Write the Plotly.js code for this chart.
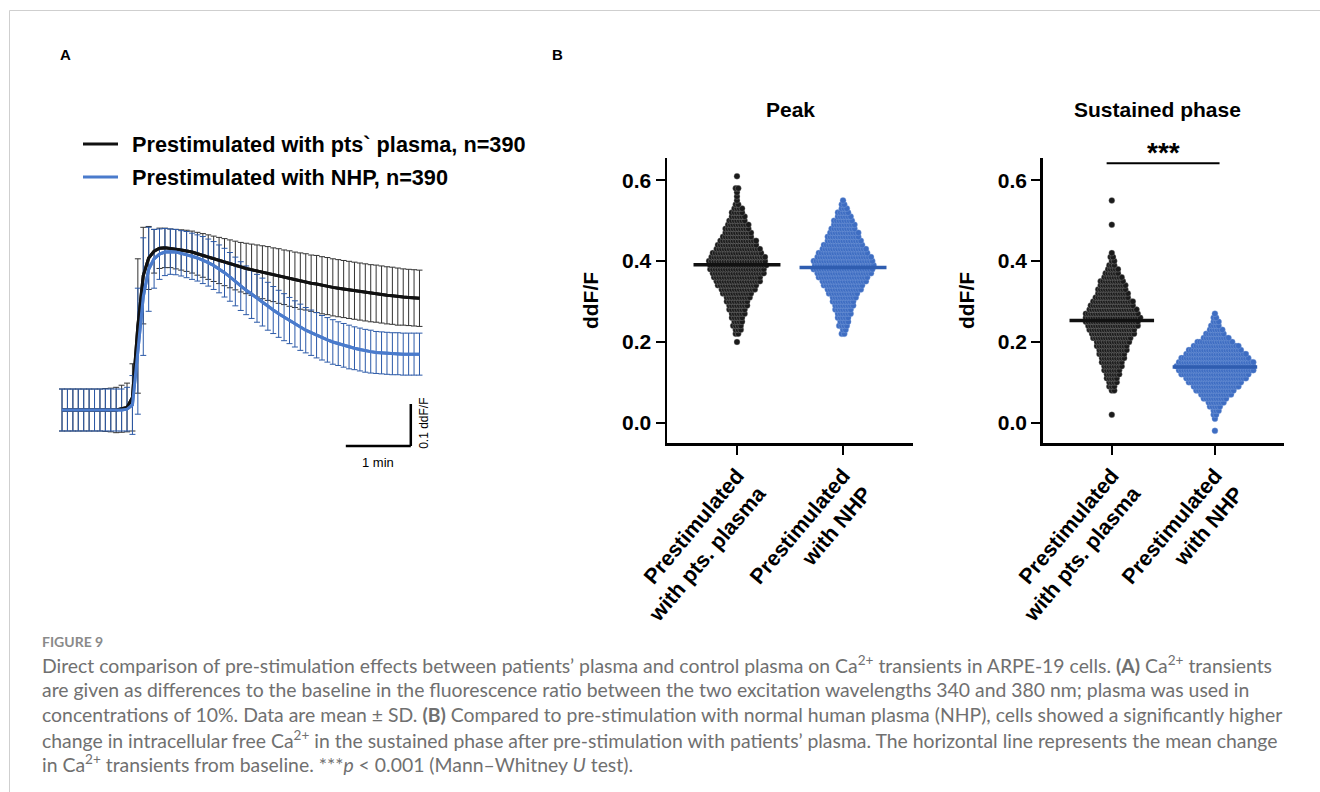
<!DOCTYPE html>
<html><head><meta charset="utf-8">
<script src="https://cdn.plot.ly/plotly-3.0.1.min.js"></script>
<style>html,body{margin:0;padding:0;background:#fff}</style>
</head><body><div id="chart" style="width:1320px;height:792px"></div>
<script>
// ---------- Panel A: time course (seconds), mean and SD of ddF/F ----------
const timeSec = [0,5,10,15,20,25,30,35,40,45,50,55,60,65,70,75,80,85,90,95,100,105,110,115,120,125,130,135,140,145,150,155,160,165,170,175,180,185,190,195,200,205,210,215,220,225,230,235,240,245,250,255,260,265,270,275,280,285,290,295,300,305,310,315,320,325,330];
const ptsMean = [0,0,0,0,0,0,0,0,0,0,0,
 0.003,0.006,0.03,0.2,0.32,0.362,0.378,0.385,0.386,0.385,
 0.383,0.381,0.379,0.376,0.372,0.368,0.364,0.36,0.356,0.352,
 0.348,0.344,0.34,0.337,0.334,0.331,0.328,0.325,0.322,0.319,
 0.316,0.313,0.31,0.307,0.305,0.302,0.3,0.297,0.295,0.292,
 0.29,0.288,0.286,0.284,0.282,0.28,0.278,0.277,0.275,0.273,
 0.272,0.27,0.269,0.268,0.267,0.266];
const ptsSD = [0.05,0.05,0.05,0.05,0.05,0.05,0.05,0.05,0.051,0.052,0.054,
 0.056,0.058,0.08,0.16,0.115,0.075,0.052,0.048,0.047,0.046,
 0.047,0.048,0.049,0.05,0.051,0.052,0.053,0.054,0.055,0.056,
 0.057,0.058,0.059,0.06,0.061,0.062,0.063,0.064,0.064,0.065,
 0.065,0.066,0.066,0.067,0.067,0.067,0.068,0.068,0.068,0.068,
 0.068,0.068,0.068,0.068,0.068,0.068,0.068,0.068,0.068,0.068,
 0.068,0.068,0.067,0.067,0.067,0.067];
const nhpMean = [0,0,0,0,0,0,0,0,0,0,0,
 0,0.002,0.012,0.14,0.27,0.335,0.36,0.371,0.376,0.377,
 0.376,0.373,0.37,0.366,0.362,0.357,0.351,0.344,0.336,0.327,
 0.317,0.306,0.295,0.285,0.276,0.266,0.257,0.247,0.238,0.229,
 0.221,0.213,0.205,0.197,0.19,0.184,0.178,0.172,0.167,0.162,
 0.158,0.154,0.15,0.147,0.144,0.141,0.139,0.137,0.136,0.135,
 0.134,0.134,0.133,0.133,0.133,0.133];
const nhpSD = [0.05,0.05,0.05,0.05,0.05,0.05,0.05,0.05,0.05,0.05,0.05,
 0.05,0.052,0.07,0.15,0.14,0.1,0.07,0.06,0.056,0.054,
 0.054,0.054,0.055,0.055,0.055,0.056,0.056,0.057,0.057,0.058,
 0.058,0.058,0.058,0.058,0.058,0.057,0.057,0.057,0.056,0.056,
 0.056,0.055,0.055,0.055,0.054,0.054,0.054,0.053,0.053,0.053,
 0.052,0.052,0.052,0.051,0.051,0.051,0.051,0.05,0.05,0.05,
 0.05,0.05,0.05,0.05,0.05,0.05];
const legendNames = ['Prestimulated with pts` plasma, n=390', 'Prestimulated with NHP, n=390'];

// ---------- Panel B: distributions (value bins of ddF/F and number of cells) ----------
const groupLabels = ['Prestimulated<br>with pts. plasma', 'Prestimulated<br>with NHP'];
const panelTitles = ['Peak', 'Sustained phase'];
const peakPtsVals = [0.20,0.21,0.22,0.23,0.24,0.25,0.26,0.27,0.28,0.29,0.30,0.31,0.32,0.33,0.34,0.35,0.36,0.37,0.38,0.39,0.40,0.41,0.42,0.43,0.44,0.45,0.46,0.47,0.48,0.49,0.50,0.51,0.52,0.53,0.54,0.55,0.56,0.57,0.58,0.59,0.60,0.61];
const peakPtsCounts = [1,0,2,3,4,4,5,6,7,8,9,10,12,14,16,18,19,21,22,23,23,22,20,18,16,15,12,11,10,9,7,6,5,4,2,1,1,1,2,0,0,1];
const peakNhpVals = [0.22,0.23,0.24,0.25,0.26,0.27,0.28,0.29,0.30,0.31,0.32,0.33,0.34,0.35,0.36,0.37,0.38,0.39,0.40,0.41,0.42,0.43,0.44,0.45,0.46,0.47,0.48,0.49,0.50,0.51,0.52,0.53,0.54,0.55];
const peakNhpCounts = [2,2,4,4,5,6,7,8,9,10,12,14,16,18,20,22,24,24,24,22,20,18,16,14,13,12,10,9,8,6,5,3,2,1];
const sustPtsVals = [0.02,0.08,0.09,0.10,0.11,0.12,0.13,0.14,0.15,0.16,0.17,0.18,0.19,0.20,0.21,0.22,0.23,0.24,0.25,0.26,0.27,0.28,0.29,0.30,0.31,0.32,0.33,0.34,0.35,0.36,0.37,0.38,0.39,0.40,0.41,0.42,0.49,0.55];
const sustPtsCounts = [1,2,3,4,5,6,7,8,9,10,11,12,13,14,16,18,19,21,22,23,22,20,18,17,14,13,12,11,10,8,6,5,3,2,2,1,1,1];
const sustNhpVals = [-0.02,0.01,0.02,0.03,0.04,0.05,0.06,0.07,0.08,0.09,0.10,0.11,0.12,0.13,0.14,0.15,0.16,0.17,0.18,0.19,0.20,0.21,0.22,0.23,0.24,0.25,0.26,0.27];
const sustNhpCounts = [1,1,2,3,5,7,10,13,16,19,22,25,28,31,32,31,28,25,22,19,15,11,8,6,4,3,2,1];
const peakMeans = [0.391, 0.384];
const sustMeans = [0.253, 0.138];

const FONT = 'Liberation Sans, Arial, Helvetica, sans-serif';
const BLACK = '#1b1b1b', BLUE = '#3e6dc2', BLUE_ERR = '#2c5aa8', BLUE_LINE = '#4a7bcc', BLUE_MEAN = '#2f5db0';

function swarm(vals, counts, center, dx) {
  const xs = [], ys = [];
  vals.forEach((v, i) => {
    const n = counts[i];
    const shift = (n > 1 && i % 2) ? dx / 2 : 0;
    for (let k = 0; k < n; k++) { xs.push(center + (k - (n - 1) / 2) * dx + shift); ys.push(v); }
  });
  return {xs, ys};
}

const traces = [];
// Panel A traces
traces.push({x: timeSec, y: ptsMean, xaxis: 'x', yaxis: 'y', mode: 'lines', line: {color: '#111', width: 3},
  error_y: {type: 'data', array: ptsSD, visible: true, color: '#333', thickness: 1, width: 3}, showlegend: false, hoverinfo: 'skip'});
traces.push({x: timeSec, y: nhpMean, xaxis: 'x', yaxis: 'y', mode: 'lines', line: {color: BLUE_LINE, width: 3},
  error_y: {type: 'data', array: nhpSD, visible: true, color: BLUE_ERR, thickness: 1, width: 3}, showlegend: false, hoverinfo: 'skip'});
traces.push({x: timeSec, y: ptsMean, xaxis: 'x', yaxis: 'y', mode: 'lines', line: {color: '#111', width: 3}, name: legendNames[0], showlegend: false});
traces.push({x: timeSec, y: nhpMean, xaxis: 'x', yaxis: 'y', mode: 'lines', line: {color: BLUE_LINE, width: 3}, name: legendNames[1], showlegend: false});

// Panel B swarms
const DX = 0.024;
const groups = [
  {vals: peakPtsVals, counts: peakPtsCounts, c: 0, ax: ['x2', 'y2'], col: BLACK, edge: 'rgba(170,170,170,0.55)'},
  {vals: peakNhpVals, counts: peakNhpCounts, c: 1, ax: ['x2', 'y2'], col: BLUE, edge: 'rgba(140,170,225,0.6)'},
  {vals: sustPtsVals, counts: sustPtsCounts, c: 0, ax: ['x3', 'y3'], col: BLACK, edge: 'rgba(170,170,170,0.55)'},
  {vals: sustNhpVals, counts: sustNhpCounts, c: 1, ax: ['x3', 'y3'], col: BLUE, edge: 'rgba(140,170,225,0.6)'}
];
groups.forEach(g => {
  const s = swarm(g.vals, g.counts, g.c, DX);
  traces.push({x: s.xs, y: s.ys, xaxis: g.ax[0], yaxis: g.ax[1], mode: 'markers', type: 'scatter',
    marker: {color: g.col, size: 6, line: {color: g.edge, width: 0.6}}, showlegend: false, hoverinfo: 'y'});
});
const HW = 0.41;
[[peakMeans, 'x2', 'y2'], [sustMeans, 'x3', 'y3']].forEach(([m, xa, ya]) => {
  traces.push({x: [0 - HW, 0 + HW], y: [m[0], m[0]], xaxis: xa, yaxis: ya, mode: 'lines', line: {color: '#111', width: 3.5}, showlegend: false, hoverinfo: 'skip'});
  traces.push({x: [1 - HW, 1 + HW], y: [m[1], m[1]], xaxis: xa, yaxis: ya, mode: 'lines', line: {color: BLUE_MEAN, width: 3.5}, showlegend: false, hoverinfo: 'skip'});
});

const W = 1320, H = 792;
const px = v => v / W, py = v => 1 - v / H;
const yB = {domain: [py(443), py(158)], range: [-0.05, 0.655], tickvals: [0, 0.2, 0.4, 0.6], ticktext: ['0.0', '0.2', '0.4', '0.6'],
  showline: true, linewidth: 2.5, linecolor: '#000', ticks: 'outside', ticklen: 9, tickwidth: 2.5, tickcolor: '#000',
  showgrid: false, zeroline: false, tickfont: {family: FONT, size: 21, color: '#000', weight: 'bold'},
  title: {text: '<b>ddF/F</b>', font: {family: FONT, size: 21, color: '#000'}, standoff: 18}};
const xB = (dom, rng) => ({domain: dom, range: rng, tickvals: [0, 1], ticktext: groupLabels, tickangle: -50,
  showline: true, linewidth: 2.5, linecolor: '#000', ticks: 'outside', ticklen: 9, tickwidth: 2.5, tickcolor: '#000',
  showgrid: false, zeroline: false, tickfont: {family: FONT, size: 21.5, color: '#000', weight: 'bold'}});

const cap = {family: 'Lato, Open Sans, sans-serif', size: 19.4, color: '#707070'};
const capLines = [
  'Direct comparison of pre-stimulation effects between patients’ plasma and control plasma on Ca<sup>2+</sup> transients in ARPE-19 cells. <b>(A)</b> Ca<sup>2+</sup> transients',
  'are given as differences to the baseline in the fluorescence ratio between the two excitation wavelengths 340 and 380 nm; plasma was used in',
  'concentrations of 10%. Data are mean ± SD. <b>(B)</b> Compared to pre-stimulation with normal human plasma (NHP), cells showed a significantly higher',
  'change in intracellular free Ca<sup>2+</sup> in the sustained phase after pre-stimulation with patients’ plasma. The horizontal line represents the mean change',
  'in Ca<sup>2+</sup> transients from baseline. ***<i>p</i> &lt; 0.001 (Mann–Whitney <i>U</i> test).'
];
const capY = [664, 689, 714, 739, 763];

const ann = (x, y, text, font, extra) => Object.assign({xref: 'paper', yref: 'paper', x: px(x), y: py(y), text, showarrow: false,
  xanchor: 'center', yanchor: 'middle', font}, extra || {});
const annotations = [
  ann(65, 55, '<b>A</b>', {family: FONT, size: 15, color: '#000'}),
  ann(557, 55, '<b>B</b>', {family: FONT, size: 15, color: '#000'}),
  ann(790, 110, '<b>' + panelTitles[0] + '</b>', {family: FONT, size: 21, color: '#000'}),
  ann(1157, 110, '<b>' + panelTitles[1] + '</b>', {family: FONT, size: 21, color: '#000'}),
  ann(1163, 152, '<b>***</b>', {family: FONT, size: 28, color: '#000'}),
  ann(130, 144, '<b>' + legendNames[0] + '</b>', {family: FONT, size: 21.7, color: '#000'}, {xanchor: 'left'}),
  ann(130, 177, '<b>' + legendNames[1] + '</b>', {family: FONT, size: 21.7, color: '#000'}, {xanchor: 'left'}),
  {xref: 'x', yref: 'y', x: 292, y: -0.124, text: '1 min', showarrow: false, xanchor: 'center', yanchor: 'middle', font: {family: FONT, size: 13, color: '#000'}},
  {xref: 'x', yref: 'y', x: 334, y: -0.031, text: '0.1 ddF/F', textangle: -90, showarrow: false, xanchor: 'center', yanchor: 'middle', font: {family: FONT, size: 12, color: '#000'}},
  ann(40, 641, '<b>FIGURE 9</b>', {family: 'Lato, Open Sans, sans-serif', size: 14, color: '#8a8a8a'}, {xanchor: 'left'})
];
capLines.forEach((t, i) => annotations.push(ann(40, capY[i], t, cap, {xanchor: 'left'})));

const shapes = [
  {type: 'line', xref: 'paper', yref: 'paper', x0: px(9.5), x1: 1, y0: py(10.5), y1: py(10.5), line: {color: '#cfcfcf', width: 1}},
  {type: 'line', xref: 'paper', yref: 'paper', x0: px(9.5), x1: px(9.5), y0: py(10.5), y1: 0, line: {color: '#cfcfcf', width: 1}},
  // legend keys
  {type: 'line', xref: 'paper', yref: 'paper', x0: px(83), x1: px(118), y0: py(144), y1: py(144), line: {color: '#111', width: 3}},
  {type: 'line', xref: 'paper', yref: 'paper', x0: px(83), x1: px(118), y0: py(177), y1: py(177), line: {color: BLUE_LINE, width: 3}},
  // scale bar (0.1 ddF/F by 1 min) in panel A data units
  {type: 'line', xref: 'x', yref: 'y', x0: 322, x1: 322, y0: -0.086, y1: 0.014, line: {color: '#000', width: 2.5}},
  {type: 'line', xref: 'x', yref: 'y', x0: 262, x1: 322, y0: -0.086, y1: -0.086, line: {color: '#000', width: 2.5}},
  // significance bar
  {type: 'line', xref: 'x3', yref: 'y3', x0: -0.05, x1: 1.045, y0: 0.642, y1: 0.642, line: {color: '#000', width: 2}}
];

const layout = {
  width: W, height: H, margin: {l: 0, r: 0, t: 0, b: 0}, paper_bgcolor: '#fff', plot_bgcolor: 'rgba(0,0,0,0)',
  font: {family: FONT, color: '#000'}, showlegend: false,
  xaxis: {domain: [px(51.2), px(430.3)], range: [-10, 340], visible: false},
  yaxis: {domain: [py(473), py(200)], range: [-0.15, 0.5], visible: false},
  xaxis2: Object.assign(xB([px(667), px(913)], [-0.66, 1.66]), {anchor: 'y2'}),
  yaxis2: Object.assign({}, yB, {anchor: 'x2'}),
  xaxis3: Object.assign(xB([px(1042.7), px(1284)], [-0.67, 1.67]), {anchor: 'y3'}),
  yaxis3: Object.assign({}, yB, {anchor: 'x3'}),
  annotations, shapes
};
Plotly.newPlot('chart', traces, layout, {displayModeBar: false, staticPlot: true});
</script></body></html>
